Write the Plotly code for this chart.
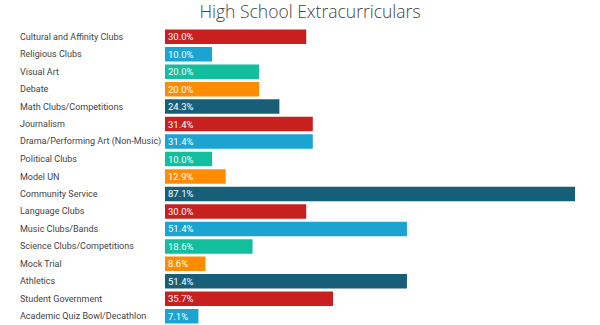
import plotly.graph_objects as go

categories = [
    "Cultural and Affinity Clubs", "Religious Clubs", "Visual Art", "Debate",
    "Math Clubs/Competitions", "Journalism", "Drama/Performing Art (Non-Music)",
    "Political Clubs", "Model UN", "Community Service", "Language Clubs",
    "Music Clubs/Bands", "Science Clubs/Competitions", "Mock Trial", "Athletics",
    "Student Government", "Academic Quiz Bowl/Decathlon",
]
values = [30.0, 10.0, 20.0, 20.0, 24.3, 31.4, 31.4, 10.0, 12.9, 87.1,
          30.0, 51.4, 18.6, 8.6, 51.4, 35.7, 7.1]
palette = ["#C8201F", "#1BA3D2", "#12BE9D", "#FF8C00", "#175F79"]
colors = [palette[i % 5] for i in range(len(categories))]

fig = go.Figure(go.Bar(
    x=values, y=categories, orientation="h",
    marker=dict(color=colors, line=dict(width=0)),
    text=[f"{v:.1f}%" for v in values],
    textposition="inside", insidetextanchor="start", constraintext="none",
    textfont=dict(family="Roboto", size=9.5, color="white"),
    cliponaxis=False,
))

L, W = 165, 410
for c in categories:
    fig.add_annotation(x=(18 - L) / W, xref="paper", y=c, yref="y",
                       text=c, showarrow=False, xanchor="left",
                       font=dict(family="Roboto", size=9, color="#444444"))

fig.update_layout(
    width=600, height=325,
    margin=dict(l=L, r=600 - L - W, t=28, b=0),
    paper_bgcolor="white", plot_bgcolor="white",
    bargap=0.17, showlegend=False,
    title=dict(text="High School Extracurriculars", x=310 / 600, xanchor="center",
               y=1 - 12 / 325, yanchor="middle",
               font=dict(family="Open Sans", size=17.5, color="#444444", weight=300)),
    xaxis=dict(range=[0, 87.1], visible=False),
    yaxis=dict(autorange="reversed", showticklabels=False, showgrid=False,
               zeroline=False, ticks=""),
)
fig.write_html("out.html")
